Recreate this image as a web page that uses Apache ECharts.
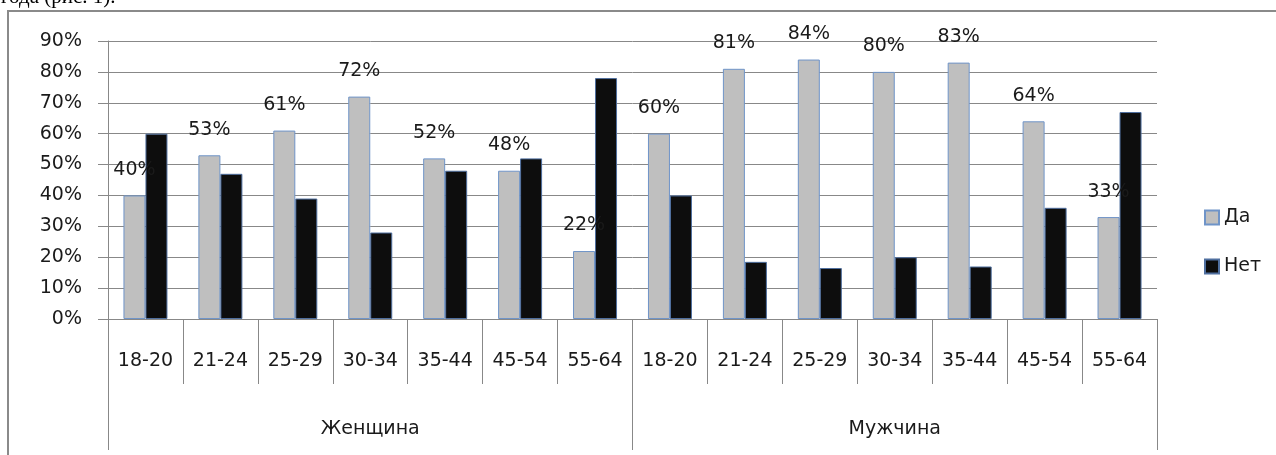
<!DOCTYPE html>
<html>
<head>
<meta charset="utf-8">
<script src="https://cdn.jsdelivr.net/npm/echarts@6/dist/echarts.min.js"></script>
<style>
    html, body { margin: 0; padding: 0; background: #fff; }
    #chart { width: 1276px; height: 455px; }
</style>
</head>
<body>
<div id="chart"></div>
<script>
    // возрастные группы и пол
    const ageGroups = ['18-20', '21-24', '25-29', '30-34', '35-44', '45-54', '55-64'];
    const genders = ['Женщина', 'Мужчина'];
    const categories = ageGroups.concat(ageGroups);

    // доли ответов, %
    const yesValues = [40, 53, 61, 72, 52, 48, 22, 60, 81, 84, 80, 83, 64, 33];
    const noValues = [60, 47, 39, 28, 48, 52, 78, 40, 18.5, 16.5, 20, 17, 36, 67];

    const yTicks = { min: 0, max: 90, interval: 10 };

    const font = 'DejaVu Sans';
    const txt = '#1a1a1a';
    const lineCol = '#888888';

    let myChart = echarts.init(document.getElementById('chart'));
    let option = {
        animation: false,
        textStyle: { fontFamily: font },
        graphic: [
            {
                type: 'rect',
                shape: { x: 8, y: 11, width: 1300, height: 500 },
                style: { fill: 'none', stroke: '#8a8a8a', lineWidth: 2 },
                silent: true
            },
            {
                type: 'text',
                left: 1,
                top: -13,
                style: {
                    text: 'года (рис. 1).',
                    font: '21px "Liberation Serif"',
                    fill: '#000'
                }
            }
        ],
        grid: {
            left: 108,
            right: 119,
            top: 41,
            bottom: 136
        },
        legend: {
            orient: 'vertical',
            left: 1199,
            top: 203,
            icon: 'rect',
            itemWidth: 14,
            itemHeight: 14,
            itemGap: 30,
            textStyle: { fontFamily: font, fontSize: 19, color: txt },
            data: ['Да', 'Нет']
        },
        xAxis: [
            {
                type: 'category',
                data: categories,
                position: 'bottom',
                axisLine: { show: true, lineStyle: { color: lineCol } },
                axisTick: { show: true, interval: 0, length: 65, lineStyle: { color: lineCol } },
                axisLabel: { color: txt, fontSize: 19, margin: 33, interval: 0 },
                splitLine: { show: false }
            },
            {
                type: 'category',
                data: genders,
                position: 'bottom',
                axisLine: { show: false },
                axisTick: { show: true, interval: 0, length: 131, lineStyle: { color: lineCol } },
                axisLabel: { color: txt, fontSize: 19, margin: 101, interval: 0 },
                splitLine: { show: false }
            }
        ],
        yAxis: {
            type: 'value',
            min: yTicks.min,
            max: yTicks.max,
            interval: yTicks.interval,
            axisLine: { show: true, lineStyle: { color: lineCol } },
            axisTick: { show: true, length: 10, lineStyle: { color: lineCol } },
            axisLabel: {
                color: txt,
                fontSize: 19,
                margin: 26,
                formatter: function (value) {
                    return value + '%';
                }
            },
            splitLine: { lineStyle: { color: lineCol } }
        },
        series: [
            {
                name: 'Да',
                type: 'bar',
                xAxisIndex: 0,
                barWidth: 22,
                barGap: '0%',
                data: yesValues,
                itemStyle: { color: '#bfbfbf', borderColor: '#6f94c8', borderWidth: 1 },
                label: {
                    show: true,
                    position: 'top',
                    distance: 16,
                    fontSize: 19,
                    color: txt,
                    formatter: function (p) {
                        return Math.round(p.value) + '%';
                    }
                }
            },
            {
                name: 'Нет',
                type: 'bar',
                xAxisIndex: 0,
                barWidth: 22,
                data: noValues,
                itemStyle: { color: '#0d0d0d', borderColor: '#4f6f9f', borderWidth: 1 }
            }
        ]
    };
    myChart.setOption(option);
</script>
</body>
</html>
